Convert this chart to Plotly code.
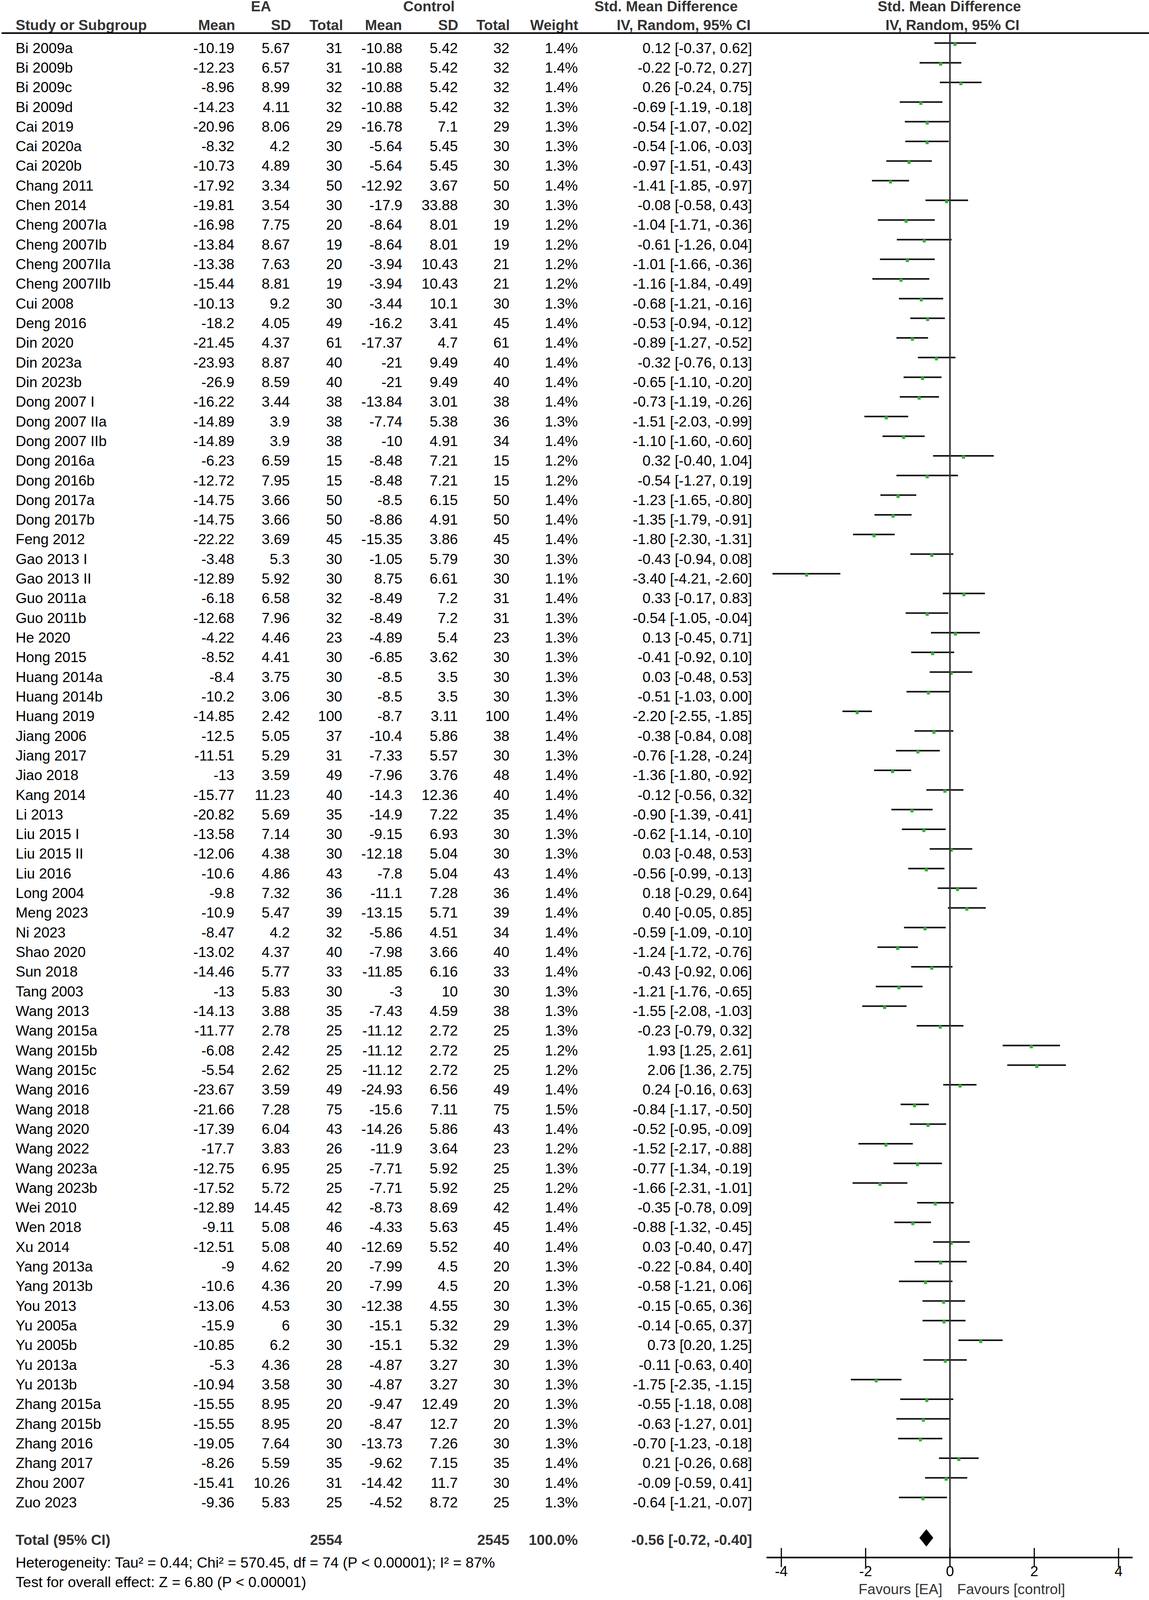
import plotly.graph_objects as go

# ---------------- data ----------------
studies = ["Bi 2009a", "Bi 2009b", "Bi 2009c", "Bi 2009d", "Cai 2019", "Cai 2020a", "Cai 2020b",
           "Chang 2011", "Chen 2014", "Cheng 2007Ia", "Cheng 2007Ib", "Cheng 2007IIa", "Cheng 2007IIb",
           "Cui 2008", "Deng 2016", "Din 2020", "Din 2023a", "Din 2023b", "Dong 2007 I", "Dong 2007 IIa",
           "Dong 2007 IIb", "Dong 2016a", "Dong 2016b", "Dong 2017a", "Dong 2017b", "Feng 2012",
           "Gao 2013 I", "Gao 2013 II", "Guo 2011a", "Guo 2011b", "He 2020", "Hong 2015", "Huang 2014a",
           "Huang 2014b", "Huang 2019", "Jiang 2006", "Jiang 2017", "Jiao 2018", "Kang 2014", "Li 2013",
           "Liu 2015 I", "Liu 2015 II", "Liu 2016", "Long 2004", "Meng 2023", "Ni 2023", "Shao 2020",
           "Sun 2018", "Tang 2003", "Wang 2013", "Wang 2015a", "Wang 2015b", "Wang 2015c", "Wang 2016",
           "Wang 2018", "Wang 2020", "Wang 2022", "Wang 2023a", "Wang 2023b", "Wei 2010", "Wen 2018",
           "Xu 2014", "Yang 2013a", "Yang 2013b", "You 2013", "Yu 2005a", "Yu 2005b", "Yu 2013a",
           "Yu 2013b", "Zhang 2015a", "Zhang 2015b", "Zhang 2016", "Zhang 2017", "Zhou 2007", "Zuo 2023"]

ea_mean = [-10.19, -12.23, -8.96, -14.23, -20.96, -8.32, -10.73, -17.92, -19.81, -16.98, -13.84, -13.38, -15.44,
           -10.13, -18.2, -21.45, -23.93, -26.9, -16.22, -14.89, -14.89, -6.23, -12.72, -14.75, -14.75, -22.22,
           -3.48, -12.89, -6.18, -12.68, -4.22, -8.52, -8.4, -10.2, -14.85, -12.5, -11.51, -13, -15.77, -20.82,
           -13.58, -12.06, -10.6, -9.8, -10.9, -8.47, -13.02, -14.46, -13, -14.13, -11.77, -6.08, -5.54, -23.67,
           -21.66, -17.39, -17.7, -12.75, -17.52, -12.89, -9.11, -12.51, -9, -10.6, -13.06, -15.9, -10.85, -5.3,
           -10.94, -15.55, -15.55, -19.05, -8.26, -15.41, -9.36]
ea_sd = [5.67, 6.57, 8.99, 4.11, 8.06, 4.2, 4.89, 3.34, 3.54, 7.75, 8.67, 7.63, 8.81,
         9.2, 4.05, 4.37, 8.87, 8.59, 3.44, 3.9, 3.9, 6.59, 7.95, 3.66, 3.66, 3.69,
         5.3, 5.92, 6.58, 7.96, 4.46, 4.41, 3.75, 3.06, 2.42, 5.05, 5.29, 3.59, 11.23, 5.69,
         7.14, 4.38, 4.86, 7.32, 5.47, 4.2, 4.37, 5.77, 5.83, 3.88, 2.78, 2.42, 2.62, 3.59,
         7.28, 6.04, 3.83, 6.95, 5.72, 14.45, 5.08, 5.08, 4.62, 4.36, 4.53, 6, 6.2, 4.36,
         3.58, 8.95, 8.95, 7.64, 5.59, 10.26, 5.83]
ea_n = [31, 31, 32, 32, 29, 30, 30, 50, 30, 20, 19, 20, 19,
        30, 49, 61, 40, 40, 38, 38, 38, 15, 15, 50, 50, 45,
        30, 30, 32, 32, 23, 30, 30, 30, 100, 37, 31, 49, 40, 35,
        30, 30, 43, 36, 39, 32, 40, 33, 30, 35, 25, 25, 25, 49,
        75, 43, 26, 25, 25, 42, 46, 40, 20, 20, 30, 30, 30, 28,
        30, 20, 20, 30, 35, 31, 25]
ctl_mean = [-10.88, -10.88, -10.88, -10.88, -16.78, -5.64, -5.64, -12.92, -17.9, -8.64, -8.64, -3.94, -3.94,
            -3.44, -16.2, -17.37, -21, -21, -13.84, -7.74, -10, -8.48, -8.48, -8.5, -8.86, -15.35,
            -1.05, 8.75, -8.49, -8.49, -4.89, -6.85, -8.5, -8.5, -8.7, -10.4, -7.33, -7.96, -14.3, -14.9,
            -9.15, -12.18, -7.8, -11.1, -13.15, -5.86, -7.98, -11.85, -3, -7.43, -11.12, -11.12, -11.12, -24.93,
            -15.6, -14.26, -11.9, -7.71, -7.71, -8.73, -4.33, -12.69, -7.99, -7.99, -12.38, -15.1, -15.1, -4.87,
            -4.87, -9.47, -8.47, -13.73, -9.62, -14.42, -4.52]
ctl_sd = [5.42, 5.42, 5.42, 5.42, 7.1, 5.45, 5.45, 3.67, 33.88, 8.01, 8.01, 10.43, 10.43,
          10.1, 3.41, 4.7, 9.49, 9.49, 3.01, 5.38, 4.91, 7.21, 7.21, 6.15, 4.91, 3.86,
          5.79, 6.61, 7.2, 7.2, 5.4, 3.62, 3.5, 3.5, 3.11, 5.86, 5.57, 3.76, 12.36, 7.22,
          6.93, 5.04, 5.04, 7.28, 5.71, 4.51, 3.66, 6.16, 10, 4.59, 2.72, 2.72, 2.72, 6.56,
          7.11, 5.86, 3.64, 5.92, 5.92, 8.69, 5.63, 5.52, 4.5, 4.5, 4.55, 5.32, 5.32, 3.27,
          3.27, 12.49, 12.7, 7.26, 7.15, 11.7, 8.72]
ctl_n = [32, 32, 32, 32, 29, 30, 30, 50, 30, 19, 19, 21, 21,
         30, 45, 61, 40, 40, 38, 36, 34, 15, 15, 50, 50, 45,
         30, 30, 31, 31, 23, 30, 30, 30, 100, 38, 30, 48, 40, 35,
         30, 30, 43, 36, 39, 34, 40, 33, 30, 38, 25, 25, 25, 49,
         75, 43, 23, 25, 25, 42, 45, 40, 20, 20, 30, 29, 29, 30,
         30, 20, 20, 30, 35, 30, 25]
weight = [1.4, 1.4, 1.4, 1.3, 1.3, 1.3, 1.3, 1.4, 1.3, 1.2, 1.2, 1.2, 1.2,
          1.3, 1.4, 1.4, 1.4, 1.4, 1.4, 1.3, 1.4, 1.2, 1.2, 1.4, 1.4, 1.4,
          1.3, 1.1, 1.4, 1.3, 1.3, 1.3, 1.3, 1.3, 1.4, 1.4, 1.3, 1.4, 1.4, 1.4,
          1.3, 1.3, 1.4, 1.4, 1.4, 1.4, 1.4, 1.4, 1.3, 1.3, 1.3, 1.2, 1.2, 1.4,
          1.5, 1.4, 1.2, 1.3, 1.2, 1.4, 1.4, 1.4, 1.3, 1.3, 1.3, 1.3, 1.3, 1.3,
          1.3, 1.3, 1.3, 1.3, 1.4, 1.4, 1.3]
smd = [0.12, -0.22, 0.26, -0.69, -0.54, -0.54, -0.97, -1.41, -0.08, -1.04, -0.61, -1.01, -1.16,
       -0.68, -0.53, -0.89, -0.32, -0.65, -0.73, -1.51, -1.10, 0.32, -0.54, -1.23, -1.35, -1.80,
       -0.43, -3.40, 0.33, -0.54, 0.13, -0.41, 0.03, -0.51, -2.20, -0.38, -0.76, -1.36, -0.12, -0.90,
       -0.62, 0.03, -0.56, 0.18, 0.40, -0.59, -1.24, -0.43, -1.21, -1.55, -0.23, 1.93, 2.06, 0.24,
       -0.84, -0.52, -1.52, -0.77, -1.66, -0.35, -0.88, 0.03, -0.22, -0.58, -0.15, -0.14, 0.73, -0.11,
       -1.75, -0.55, -0.63, -0.70, 0.21, -0.09, -0.64]
ci_lo = [-0.37, -0.72, -0.24, -1.19, -1.07, -1.06, -1.51, -1.85, -0.58, -1.71, -1.26, -1.66, -1.84,
         -1.21, -0.94, -1.27, -0.76, -1.10, -1.19, -2.03, -1.60, -0.40, -1.27, -1.65, -1.79, -2.30,
         -0.94, -4.21, -0.17, -1.05, -0.45, -0.92, -0.48, -1.03, -2.55, -0.84, -1.28, -1.80, -0.56, -1.39,
         -1.14, -0.48, -0.99, -0.29, -0.05, -1.09, -1.72, -0.92, -1.76, -2.08, -0.79, 1.25, 1.36, -0.16,
         -1.17, -0.95, -2.17, -1.34, -2.31, -0.78, -1.32, -0.40, -0.84, -1.21, -0.65, -0.65, 0.20, -0.63,
         -2.35, -1.18, -1.27, -1.23, -0.26, -0.59, -1.21]
ci_hi = [0.62, 0.27, 0.75, -0.18, -0.02, -0.03, -0.43, -0.97, 0.43, -0.36, 0.04, -0.36, -0.49,
         -0.16, -0.12, -0.52, 0.13, -0.20, -0.26, -0.99, -0.60, 1.04, 0.19, -0.80, -0.91, -1.31,
         0.08, -2.60, 0.83, -0.04, 0.71, 0.10, 0.53, 0.00, -1.85, 0.08, -0.24, -0.92, 0.32, -0.41,
         -0.10, 0.53, -0.13, 0.64, 0.85, -0.10, -0.76, 0.06, -0.65, -1.03, 0.32, 2.61, 2.75, 0.63,
         -0.50, -0.09, -0.88, -0.19, -1.01, 0.09, -0.45, 0.47, 0.40, 0.06, 0.36, 0.37, 1.25, 0.40,
         -1.15, 0.08, 0.01, -0.18, 0.68, 0.41, -0.07]

total_label = "Total (95% CI)"
total_ea_n = 2554
total_ctl_n = 2545
total_weight = 100.0
total_smd, total_lo, total_hi = -0.56, -0.72, -0.40
heterogeneity_text = "Heterogeneity: Tau\u00b2 = 0.44; Chi\u00b2 = 570.45, df = 74 (P &lt; 0.00001); I\u00b2 = 87%"
overall_text = "Test for overall effect: Z = 6.80 (P &lt; 0.00001)"

group_headers = ["EA", "Control", "Std. Mean Difference", "Std. Mean Difference"]
col_headers = ["Study or Subgroup", "Mean", "SD", "Total", "Mean", "SD", "Total", "Weight",
               "IV, Random, 95% CI", "IV, Random, 95% CI"]
tick_vals = [-4, -2, 0, 2, 4]
favours_left = "Favours [EA]"
favours_right = "Favours [control]"

# ---------------- layout constants (pixels of the 2941x5123 design) ----------------
W, H = 2941, 5123
ROW0_PX, ROW_STEP = 158.0, 62.93
ZERO_PX, UNIT_PX = 2431.5, 107.9
FONT = "Liberation Sans, Arial, Helvetica, sans-serif"
FS = 41.5
FS_FOOT = 42
HEAD_COLOR = "#333333"


def row_px(px):
    return (px - ROW0_PX) / ROW_STEP


n = len(studies)
rows = list(range(n))


def fmt(v):
    return f"{v:g}"


fig = go.Figure()


def text_trace(x, y, text, pos, bold=False, color="black", size=FS):
    if bold:
        text = [f"<b>{t}</b>" for t in text]
    fig.add_trace(go.Scatter(
        x=x, y=y, text=text, mode="text", textposition=pos, xaxis="x2", yaxis="y",
        textfont=dict(family=FONT, size=size, color=color), hoverinfo="skip", showlegend=False))


# column anchors in design-pixel space
COL_STUDY = 40
COL_RIGHT = [600, 742, 876, 1030, 1172, 1304, 1479, 1925]
HEAD_RIGHT = [602, 745, 878, 1029, 1173, 1305, 1480]

# study names
text_trace([COL_STUDY] * n, rows, studies, "middle right")
cols = [
    [fmt(v) for v in ea_mean],
    [fmt(v) for v in ea_sd],
    [str(v) for v in ea_n],
    [fmt(v) for v in ctl_mean],
    [fmt(v) for v in ctl_sd],
    [str(v) for v in ctl_n],
    [f"{w:.1f}%" for w in weight],
    [f"{s:.2f} [{l:.2f}, {h:.2f}]" for s, l, h in zip(smd, ci_lo, ci_hi)],
]
for cx, vals in zip(COL_RIGHT, cols):
    text_trace([cx] * n, rows, vals, "middle left")

# headers
y_h1 = row_px(25)
y_h2 = row_px(85)
text_trace([668, 1098, 1705, 2430], [y_h1] * 4, group_headers, "middle center", bold=True, color=HEAD_COLOR)
text_trace([COL_STUDY], [y_h2], col_headers[:1], "middle right", bold=True, color=HEAD_COLOR)
text_trace(HEAD_RIGHT, [y_h2] * 7, col_headers[1:8], "middle left", bold=True, color=HEAD_COLOR)
text_trace([1750, 2438], [y_h2] * 2, col_headers[8:], "middle center", bold=True, color=HEAD_COLOR)

# total row
y_tot = row_px(4935)
text_trace([COL_STUDY], [y_tot], [total_label], "middle right", bold=True, color=HEAD_COLOR)
text_trace([COL_RIGHT[2], COL_RIGHT[5], COL_RIGHT[6], COL_RIGHT[7]], [y_tot] * 4,
           [str(total_ea_n), str(total_ctl_n), f"{total_weight:.1f}%",
            f"{total_smd:.2f} [{total_lo:.2f}, {total_hi:.2f}]"],
           "middle left", bold=True, color=HEAD_COLOR)

# heterogeneity / overall effect
text_trace([COL_STUDY, COL_STUDY], [row_px(5007), row_px(5070)], [heterogeneity_text, overall_text],
           "middle right", size=FS_FOOT)

# ---------------- forest part ----------------
CI_OFF = 20 / ROW_STEP
MK_OFF = 16 / ROW_STEP
ci_x, ci_y = [], []
for r, lo, hi in zip(rows, ci_lo, ci_hi):
    ci_x += [lo, hi, None]
    ci_y += [r - CI_OFF, r - CI_OFF, None]
fig.add_trace(go.Scatter(x=ci_x, y=ci_y, mode="lines", line=dict(color="#111111", width=4),
                         hoverinfo="skip", showlegend=False))
fig.add_trace(go.Scatter(x=smd, y=[r - MK_OFF for r in rows], mode="markers",
                         marker=dict(symbol="square", size=8, color="#33b033", line=dict(width=0)),
                         hoverinfo="skip", showlegend=False))

# zero line
y_top_line = row_px(106)
y_axis_line = row_px(4987)
fig.add_trace(go.Scatter(x=[0, 0], y=[y_top_line, y_axis_line], mode="lines",
                         line=dict(color="#333333", width=4), hoverinfo="skip", showlegend=False))

# diamond
yc = row_px(4924)
hh = 27 / ROW_STEP
fig.add_trace(go.Scatter(x=[total_lo, total_smd, total_hi, total_smd, total_lo],
                         y=[yc, yc - hh, yc, yc + hh, yc], mode="lines", fill="toself",
                         fillcolor="black", line=dict(color="black", width=1),
                         hoverinfo="skip", showlegend=False))

# header underline (design-pixel axis)
fig.add_trace(go.Scatter(x=[4, W], y=[y_top_line, y_top_line], mode="lines", xaxis="x2",
                         line=dict(color="black", width=4), hoverinfo="skip", showlegend=False))

# bottom axis
ax_lo = (1962 - ZERO_PX) / UNIT_PX
ax_hi = (2899 - ZERO_PX) / UNIT_PX
fig.add_trace(go.Scatter(x=[ax_lo, ax_hi], y=[y_axis_line, y_axis_line], mode="lines",
                         line=dict(color="black", width=4), hoverinfo="skip", showlegend=False))
fig.add_trace(go.Scatter(x=tick_vals, y=[y_axis_line] * len(tick_vals), mode="markers",
                         marker=dict(symbol="line-ns", size=35, line=dict(color="black", width=3)),
                         hoverinfo="skip", showlegend=False))
fig.add_trace(go.Scatter(x=tick_vals, y=[row_px(5035)] * len(tick_vals), mode="text",
                         text=[str(t) for t in tick_vals], textposition="middle center",
                         textfont=dict(family=FONT, size=FS, color="black"),
                         hoverinfo="skip", showlegend=False))
text_trace([2412], [row_px(5093)], [favours_left], "middle left", color=HEAD_COLOR)
text_trace([2450], [row_px(5093)], [favours_right], "middle right", color=HEAD_COLOR)

fig.update_layout(
    width=W, height=H, margin=dict(l=0, r=0, t=0, b=0),
    paper_bgcolor="white", plot_bgcolor="white", showlegend=False,
    xaxis=dict(domain=[0, 1], range=[(0 - ZERO_PX) / UNIT_PX, (W - ZERO_PX) / UNIT_PX],
               visible=False, fixedrange=True),
    xaxis2=dict(domain=[0, 1], range=[0, W], overlaying="x", anchor="y", visible=False, fixedrange=True),
    yaxis=dict(domain=[0, 1], range=[row_px(H), row_px(0)], visible=False, fixedrange=True),
)

# fit the figure to the visible viewport so nothing is clipped
post = """
document.documentElement.style.margin='0';
document.body.style.margin='0';
document.body.style.overflow='hidden';
var gd = document.getElementById('{plot_id}');
var w = window.innerWidth || 2941, h = window.innerHeight || 5123;
var k = Math.min(1, h / 5123);
var idx = [], sizes = [];
for (var i = 0; i < gd.data.length; i++) {
  if (gd.data[i].mode === 'text') { idx.push(i); sizes.push(gd.data[i].textfont.size * Math.sqrt(k)); }
}
Plotly.restyle(gd, {'textfont.size': sizes}, idx);
Plotly.relayout(gd, {width: w, height: h});
"""
fig.write_html("out.html", post_script=post, config={"displayModeBar": False})
